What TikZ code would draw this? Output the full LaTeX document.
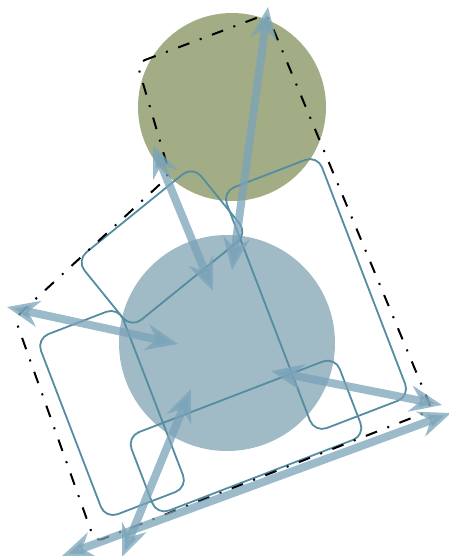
\documentclass[tikz,border=0pt]{standalone}
\usetikzlibrary{arrows.meta}
\definecolor{mapSage}{RGB}{162,173,134}
\definecolor{mapSky}{RGB}{160,186,198}
\definecolor{mapSteel}{RGB}{84,140,162}
\definecolor{mapLink}{RGB}{122,163,184}
\tikzset{
  blob/.style={circle, inner sep=0pt, draw=none},
  panel/.style={draw=mapSteel, line width=1.8pt, rounded corners=13pt, inner sep=0pt},
  hull/.style={draw=black, line width=2pt, dash pattern=on 12pt off 11pt on 2pt off 11pt, rounded corners=8pt},
  link/.style={{Stealth[length=32pt,width=26pt]}-{Stealth[length=32pt,width=26pt]}, line width=8pt, draw=mapLink, opacity=0.75}
}

\begin{document}
\begin{tikzpicture}[x=1pt,y=-1pt]
    \useasboundingbox (0,0) rectangle (449,556);
    \node[blob, fill=mapSage, minimum size=188pt] (upper) at (232,107) {};
    \node[blob, fill=mapSky, minimum size=216pt] (lower) at (227,343) {};
    \node[panel, minimum width=150pt, minimum height=87pt, rotate=39] (ra) at (162,247) {};
    \node[panel, minimum width=102pt, minimum height=258pt, rotate=21] (rb) at (316,294) {};
    \node[panel, minimum width=88pt, minimum height=193pt, rotate=21] (rc) at (112,413) {};
    \node[panel, minimum width=223pt, minimum height=84pt, rotate=21] (rd) at (246,436) {};
    \draw[hull] (137,63) -- (267,14) -- (432,410) -- (95,542) -- (15,318) -- (170,175) -- cycle;
    \coordinate (a1) at (7,307);
    \coordinate (a2) at (178,344);
    \coordinate (b1) at (153,145);
    \coordinate (b2) at (213,291);
    \coordinate (c1) at (268,7);
    \coordinate (c2) at (232,270);
    \coordinate (d1) at (271,371);
    \coordinate (d2) at (442,405);
    \coordinate (e1) at (62,556);
    \coordinate (e2) at (451,413);
    \coordinate (f1) at (122,557);
    \coordinate (f2) at (191,389);
    \draw[link] (a1) -- (a2);
    \draw[link] (b1) -- (b2);
    \draw[link] (c1) -- (c2);
    \draw[link] (d1) -- (d2);
    \draw[link] (e1) -- (e2);
    \draw[link] (f1) -- (f2);
  \end{tikzpicture}
\end{document}
